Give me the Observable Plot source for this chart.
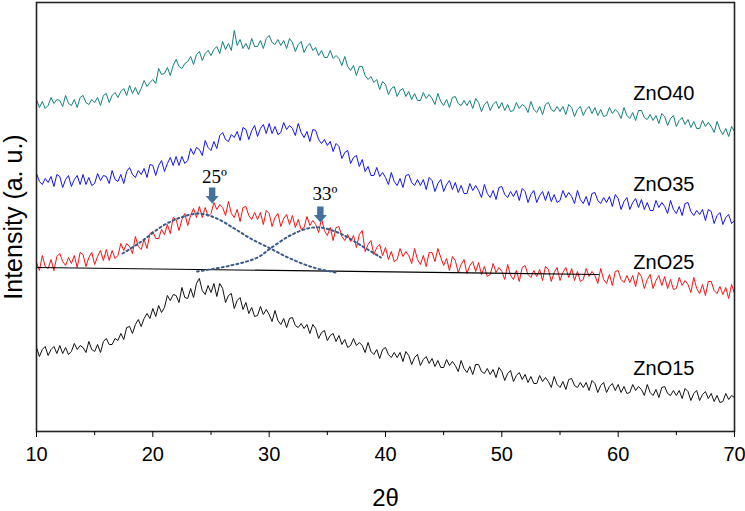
<!DOCTYPE html>
<html><head><meta charset="utf-8">
<script src="https://cdn.jsdelivr.net/npm/d3@7"></script>
<script src="https://cdn.jsdelivr.net/npm/@observablehq/plot@0.6"></script>
<style>body{margin:0;background:#fff} svg{display:block}</style>
</head><body><div id="chart"></div>
<script>
// 2θ grid (degrees), 0.25° step from 10 to 70 (four readings per degree, groups of four below)
const twoTheta = d3.range(10, 70.1, 0.25);

// Intensities (a.u., vertically offset as in the figure)
const zno40 = [
332,324,330,323, 326,334,328,332, 331,325,336,328, 326,332,324,334, 336,329,327,332,
329,334,326,336, 338,329,336,339, 334,340,343,336, 346,338,344,337, 343,351,345,349,
352,348,363,357, 358,364,356,366, 372,365,363,368, 370,375,367,377, 380,371,378,381,
376,382,385,378, 390,382,388,381, 401,386,392,383, 388,382,393,385, 385,391,383,393,
396,389,387,392, 386,391,383,393, 389,380,387,390, 379,385,388,381, 384,376,381,374,
374,381,373,376, 373,366,375,365, 361,366,356,365, 365,356,352,355, 349,352,342,350,
347,337,343,345, 335,341,343,335, 340,332,338,331, 331,339,333,337, 333,327,338,330,
326,332,324,334, 335,328,326,331, 326,331,323,333, 329,320,327,330, 321,327,330,323,
329,321,327,320, 321,329,323,327, 325,319,330,322, 319,325,317,327, 329,322,320,325,
320,325,317,327, 324,315,322,325, 316,322,325,318, 324,316,322,315, 316,324,318,322,
319,313,324,316, 313,319,311,321, 321,314,312,317, 311,316,308,318, 315,306,313,316,
305,311,314,307, 312,304,310,303, 303,311,305,309, 305,299,310,302, 297,303,295,305,
300];
const zno35 = [
258,250,247,253, 249,255,245,257, 255,244,252,256, 245,252,256,247, 257,247,254,246,
248,258,251,256, 255,248,261,252, 250,257,248,260, 264,257,254,261, 257,263,254,267,
266,256,266,271, 260,268,274,266, 275,266,275,268, 271,283,277,284, 282,276,291,284,
281,290,283,296, 299,292,290,297, 294,300,291,304, 302,292,301,306, 295,303,307,298,
308,298,305,297, 299,309,302,306, 303,296,308,299, 294,300,290,302, 301,292,288,292,
286,290,280,288, 285,273,279,281, 268,274,276,265, 272,260,265,256, 256,264,255,259,
254,247,259,250, 246,253,244,256, 257,249,246,252, 246,252,242,254, 251,240,248,252,
240,247,251,242, 249,239,246,238, 238,248,241,246, 241,234,247,238, 234,241,232,244,
245,237,234,240, 235,241,231,243, 240,229,237,241, 229,236,240,231, 240,230,237,229,
231,241,234,239, 235,228,241,232, 228,235,226,238, 239,231,228,234, 229,235,225,237,
233,222,230,234, 222,229,233,224, 232,222,229,221, 221,231,224,229, 225,218,231,222,
218,225,216,228, 229,220,216,221, 217,222,211,222, 220,208,216,219, 207,214,217,208,
211];
const zno25 = [
169,161,176,165, 163,172,161,175, 178,170,166,174, 168,176,164,179, 177,165,174,179,
167,175,181,171, 182,171,181,173, 176,188,181,188, 185,178,195,185, 182,192,183,198,
200,193,193,202, 197,207,198,214, 212,201,212,218, 206,216,223,214, 225,214,224,215,
218,229,222,227, 224,216,230,218, 214,222,210,224, 225,216,212,219, 212,219,207,221,
218,205,214,218, 205,213,217,207, 216,204,212,202, 204,215,206,211, 207,199,213,201,
196,204,191,204, 205,195,191,197, 190,196,184,197, 201,180,187,191, 177,184,187,176,
184,172,180,170, 172,183,175,180, 176,168,183,172, 167,176,165,179, 179,170,183,174,
166,173,161,175, 171,159,167,172, 158,166,170,160, 169,157,165,155, 157,168,159,164,
160,152,167,156, 152,161,150,164, 166,157,154,161, 155,162,151,165, 162,150,159,164,
151,159,164,154, 163,151,160,150, 152,163,155,160, 156,148,163,152, 148,157,146,160,
161,152,149,156, 149,156,145,159, 155,143,152,157, 143,151,156,146, 155,143,152,142,
143,154,146,151, 147,139,154,143, 138,147,136,150, 150,141,138,145, 137,144,133,147,
138];
const zno15 = [
84,75,82,85, 76,82,85,78, 86,78,84,77, 80,88,82,86, 84,79,90,82,
80,87,79,90, 93,87,87,93, 91,98,92,104, 105,98,107,112, 105,113,118,113,
123,115,126,119, 124,136,131,137, 136,129,144,134, 133,143,134,148, 153,141,137,146,
139,148,135,148, 143,129,136,138, 123,131,134,122, 129,118,124,115, 116,125,117,122,
117,110,121,111, 107,113,104,113, 114,106,104,108, 103,107,98,107, 103,93,99,101,
91,96,98,90, 96,87,92,84, 86,93,86,89, 86,79,89,80, 77,82,73,82,
84,77,74,79, 74,79,70,80, 76,67,74,77, 66,72,75,68, 73,65,71,64,
64,72,66,70, 66,60,71,63, 59,65,57,67, 67,60,58,63, 57,62,54,64,
60,51,58,61, 50,56,59,52, 57,49,55,48, 48,56,50,54, 50,44,55,47,
44,50,42,52, 53,46,44,49, 44,49,41,51, 48,39,46,49, 39,45,48,41,
47,39,45,38, 39,47,41,45, 42,36,47,39, 36,42,34,44, 45,38,36,41,
36,41,33,43, 40,31,38,41, 31,37,40,33, 38,30,36,29, 30,38,32,36,
34];

const seriesNames = ["ZnO40", "ZnO35", "ZnO25", "ZnO15"];
const seriesColors = ["#14807f", "#1212f0", "#f01414", "#111111"];
const seriesValues = [zno40, zno35, zno25, zno15];
const labelX = [61.3, 61.3, 61.3, 61.3];
const labelY = [331.7, 240.3, 162.7, 57];

// deconvolution of ZnO25: two fitted components and the baseline
const fit1X = [17.4, 18.9, 20.9, 22.4, 24.0, 25.5, 27.0, 28.4, 30.1, 31.8, 33.8, 35.7];
const fit1Y = [178, 189, 206, 214, 218, 213, 203, 193, 183, 173, 164, 159];
const fit2X = [23.8, 26.7, 29.0, 30.1, 31.8, 33.3, 34.4, 36.1, 37.9, 39.6];
const fit2Y = [160, 166, 174, 183, 196, 203, 204, 198, 186, 174];
const baseX = [10, 58.3];
const baseY = [164, 157];

const peakLabels = ["25º", "33º"];
const peakLabelX = [25.3, 34.8];
const peakLabelY = [249, 232];
const arrowX = [25.1, 34.4];
const arrowTipY = [228, 209];

const xTicks = [10, 20, 30, 40, 50, 60, 70];
const xMinorTicks = [15, 25, 35, 45, 55, 65];
const xLabel = "2θ";
const yLabel = "Intensity (a. u.)";

const data = seriesNames.flatMap((name, k) =>
  seriesValues[k].map((v, i) => ({x: twoTheta[i], y: v, name})));
const labels = seriesNames.map((name, k) => ({name, x: labelX[k], y: labelY[k]}));
const fit1 = fit1X.map((x, i) => ({x, y: fit1Y[i]}));
const fit2 = fit2X.map((x, i) => ({x, y: fit2Y[i]}));
const base = baseX.map((x, i) => ({x, y: baseY[i]}));
const peaks = peakLabels.map((t, i) => ({t, x: peakLabelX[i], y: peakLabelY[i], ax: arrowX[i], ay: arrowTipY[i]}));

const downArrow = {
  draw(ctx) {
    ctx.moveTo(-3.2, -16); ctx.lineTo(3.2, -16); ctx.lineTo(3.2, -7.5);
    ctx.lineTo(6.5, -7.5); ctx.lineTo(0, 0); ctx.lineTo(-6.5, -7.5);
    ctx.lineTo(-3.2, -7.5); ctx.closePath();
  }
};

const chart = Plot.plot({
  width: 745, height: 511,
  marginLeft: 36, marginRight: 11, marginTop: 2, marginBottom: 80,
  style: {fontFamily: "'Liberation Sans', Arial, sans-serif", fontSize: "20px", color: "#000", background: "#fff"},
  x: {domain: [10, 70]},
  y: {domain: [0, 429], axis: null},
  color: {domain: seriesNames, range: seriesColors},
  marks: [
    Plot.line(data, {x: "x", y: "y", z: "name", stroke: "name", strokeWidth: 1}),
    Plot.line(base, {x: "x", y: "y", stroke: "#000", strokeWidth: 1.2}),
    Plot.line(fit1, {x: "x", y: "y", stroke: "#3a5a8c", strokeWidth: 2, strokeDasharray: "2,3", curve: "catmull-rom"}),
    Plot.line(fit2, {x: "x", y: "y", stroke: "#3a5a8c", strokeWidth: 2, strokeDasharray: "2,3", curve: "catmull-rom"}),
    Plot.dot(peaks, {x: "ax", y: "ay", symbol: downArrow, fill: "#41719c", stroke: "none", r: 5}),
    Plot.text(peaks, {x: "x", y: "y", text: "t", lineAnchor: "bottom", fontFamily: "'Liberation Serif', 'Times New Roman', serif", fontSize: 19}),
    Plot.text(labels, {x: "x", y: "y", text: "name", textAnchor: "start", lineAnchor: "bottom", fontSize: 20}),
    Plot.frame({stroke: "#222", strokeWidth: 1.6}),
    Plot.axisX({ticks: xTicks, tickSize: 6, tickPadding: 9, label: null, fontSize: 20, tickFormat: d => String(d)}),
    Plot.axisX({ticks: xMinorTicks, tickSize: 4, text: null, label: null}),
    Plot.text([xLabel], {x: () => 40, frameAnchor: "bottom", dy: 74, lineAnchor: "bottom", fontSize: 24}),
    Plot.text([yLabel], {frameAnchor: "left", dx: -23, rotate: -90, textAnchor: "middle", lineAnchor: "middle", fontSize: 25})
  ]
});
document.getElementById("chart").appendChild(chart);
</script>
</body></html>
